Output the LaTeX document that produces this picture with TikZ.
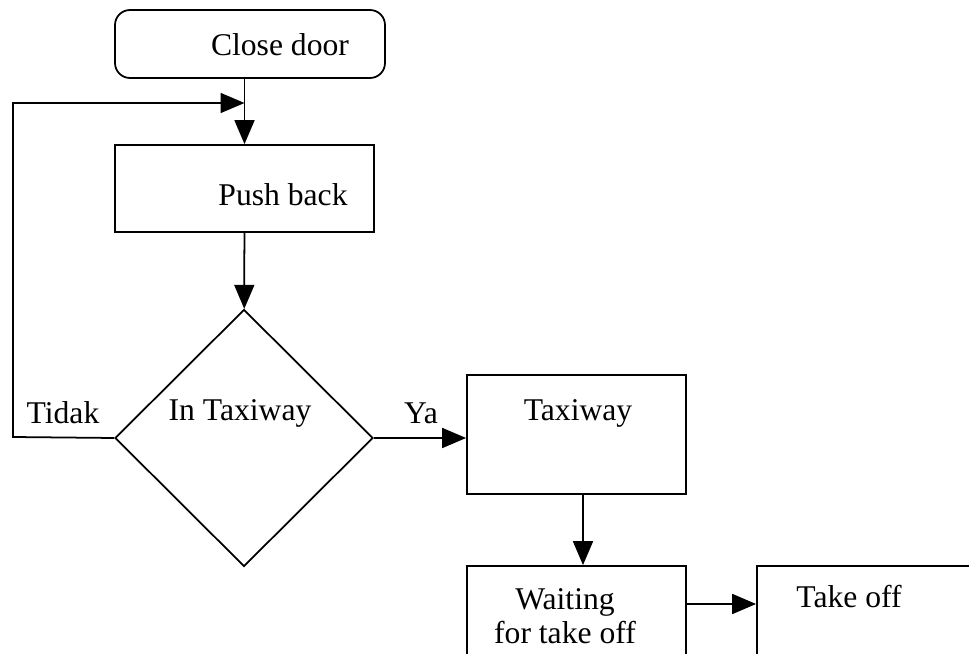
\documentclass[tikz,border=0pt]{standalone}
\usepackage{fontspec}
\setmainfont{Liberation Serif}
\usepackage{tikz}
\usetikzlibrary{arrows.meta,shapes.geometric,calc}

\tikzset{
  box/.style={draw, line width=1.5pt, inner sep=0pt},
  rbox/.style={box, rounded corners=0.45cm},
  dbox/.style={draw, line width=1.5pt, diamond, inner sep=0pt, minimum width=7.74cm, minimum height=7.71cm},
  txt/.style={inner sep=0pt, font=\fontsize{27}{28.5}\selectfont, align=center},
  arr/.style={line width=1.5pt, -{Triangle[length=0.72cm,width=0.6cm]}}
}

\begin{document}
\begin{tikzpicture}[x=0.03cm,y=-0.03cm]
\useasboundingbox (0,0) rectangle (969,654);
\clip (0,0) rectangle (969,654);

\draw (250,44)    node (1)  [rbox, minimum width=8.1cm, minimum height=2.04cm] {};
\draw (280,45)    node (1t) [txt] {Close door};

\draw (244.5,188.5) node (2)  [box, minimum width=7.77cm, minimum height=2.61cm] {};
\draw (283,195)   node (2t) [txt] {Push back};
\draw[arr] (1.south -| 2.north) -- (2.north);

\draw (244,438)   node (3)  [dbox] {};
\draw (240,413)   node (3t) [txt] {In Taxiway};
\draw (63,413)    node (3n) [txt] {Tidak};
\draw (421,413)   node (3y) [txt] {Ya};
\draw[arr] (2) -- (3);

\draw (576.5,434.5) node (4)  [box, minimum width=6.57cm, minimum height=3.57cm] {};
\draw (578,413)   node (4t) [txt] {Taxiway};
\draw[arr] (3.east) -- (3.east -| 4.west);

\draw (576.5,643) node (5)  [box, minimum width=6.57cm, minimum height=4.62cm] {};
\draw (565,616)   node (5t) [txt] {Waiting\\for take off};
\draw[arr] ($(4.south)+(6.5,0)$) -- ($(5.north)+(6.5,0)$);

\draw (888.5,643) node (6)  [box, minimum width=7.89cm, minimum height=4.62cm] {};
\draw (849,597)   node (6t) [txt] {Take off};
\draw[arr] (5.east |- 0,604) -- (6.west |- 0,604);

\coordinate (j) at (2.north |- 0,103);
\draw[arr] (3.west) -- (13,437) -- (13,103) -- (j);
\end{tikzpicture}
\end{document}
